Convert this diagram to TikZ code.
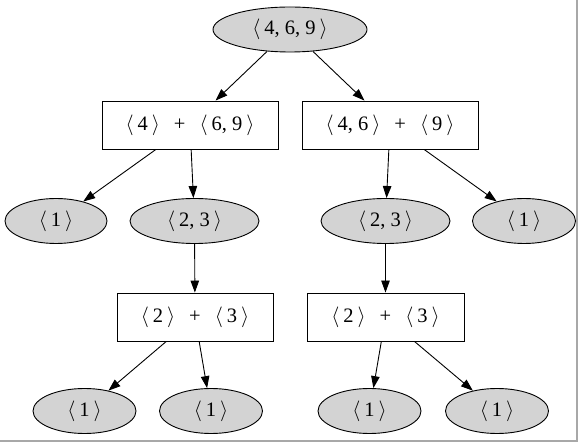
\documentclass[tikz,border=0pt]{standalone}
\usepackage{fontspec}
\setmainfont{Liberation Serif}
\usetikzlibrary{shapes.geometric,arrows.meta}
\definecolor{lightgrey}{HTML}{D3D3D3}
\definecolor{framegray}{HTML}{A8A8A8}
\newcommand{\tup}[1]{$\langle$\hspace{4pt}#1\hspace{4pt}$\rangle$}
\newcommand{\plussep}{\hspace{14pt}+\hspace{14pt}}
\begin{document}
\begin{tikzpicture}[x=1pt,y=-1pt,
  every node/.style={font=\fontsize{20.5}{24}\selectfont, inner sep=0pt},
  leaf/.style={ellipse, draw, fill=lightgrey, line width=0.9pt, minimum height=45pt},
  sumbox/.style={rectangle, draw, fill=white, line width=0.9pt, minimum height=48pt},
  edge/.style={-{Triangle[length=12pt,width=8.5pt]}, line width=0.9pt}]
\useasboundingbox (0,0) rectangle (581,443);
\draw[framegray, line width=1.5pt] (577,0) -- (577,441) -- (0,441);
% nodes
\node[leaf, minimum width=154pt] (root) at (290,29.5) {\tup{4, 6, 9}};
\node[sumbox, minimum width=176pt] (A) at (190,125) {\tup{4}\plussep\tup{6, 9}};
\node[sumbox, minimum width=176pt] (B) at (390,125) {\tup{4, 6}\plussep\tup{9}};
\node[leaf, minimum width=102pt] (L1) at (56,221) {\tup{1}};
\node[leaf, minimum width=129pt] (L23) at (194.5,221) {\tup{2, 3}};
\node[leaf, minimum width=129pt] (R23) at (385.5,221) {\tup{2, 3}};
\node[leaf, minimum width=103pt] (R1) at (524,221) {\tup{1}};
\node[sumbox, minimum width=156pt] (C) at (195,317) {\tup{2}\plussep\tup{3}};
\node[sumbox, minimum width=157pt] (D) at (385.5,317) {\tup{2}\plussep\tup{3}};
\node[leaf, minimum width=103pt] (b1) at (84.5,411) {\tup{1}};
\node[leaf, minimum width=103pt] (b2) at (211,411) {\tup{1}};
\node[leaf, minimum width=103pt] (b3) at (369.5,411) {\tup{1}};
\node[leaf, minimum width=103pt] (b4) at (497,411) {\tup{1}};
% edges
\draw[edge] (root) -- (A);
\draw[edge] (root) -- (B);
\draw[edge] (A) -- (L1);
\draw[edge] (A) -- (L23);
\draw[edge] (B) -- (R23);
\draw[edge] (B) -- (R1);
\draw[edge] (L23) -- (C);
\draw[edge] (R23) -- (D);
\draw[edge] (C) -- (b1);
\draw[edge] (C) -- (b2);
\draw[edge] (D) -- (b3);
\draw[edge] (D) -- (b4);
\end{tikzpicture}
\end{document}
